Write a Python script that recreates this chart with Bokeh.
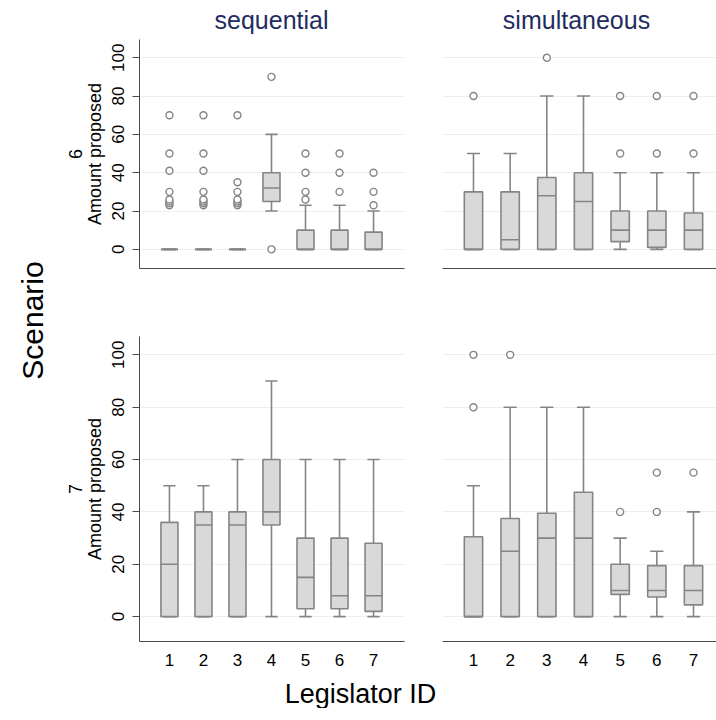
import numpy as np
from math import pi
from bokeh.plotting import figure
from bokeh.layouts import row, column
from bokeh.models import Range1d, FixedTicker, Label, ColumnDataSource
from bokeh.embed import file_html
from bokeh.resources import INLINE

# ---------------- data ----------------
legislators = [1, 2, 3, 4, 5, 6, 7]
y_ticks = [0, 20, 40, 60, 80, 100]
col_titles = ["sequential", "simultaneous"]
scenarios = ["6", "7"]
x_title = "Legislator ID"
y_title = "Scenario"
y_axis_name = "Amount proposed"

# Scenario 6, sequential
s6_seq_lo = [0, 0, 0, 20, 0, 0, 0]
s6_seq_q1 = [0, 0, 0, 25, 0, 0, 0]
s6_seq_med = [0, 0, 0, 32, 0, 0, 0]
s6_seq_q3 = [0, 0, 0, 40, 10, 10, 9]
s6_seq_hi = [0, 0, 0, 60, 23, 23, 20]
s6_seq_out = [[23, 24, 25, 26, 30, 41, 50, 70], [23, 24, 25, 26, 30, 41, 50, 70],
              [23, 24, 25, 26, 30, 35, 70], [0, 90], [26, 30, 40, 50], [30, 40, 50], [23, 30, 40]]

# Scenario 6, simultaneous
s6_sim_lo = [0, 0, 0, 0, 0, 0, 0]
s6_sim_q1 = [0, 0, 0, 0, 4, 1, 0]
s6_sim_med = [0, 5, 28, 25, 10, 10, 10]
s6_sim_q3 = [30, 30, 37.5, 40, 20, 20, 19]
s6_sim_hi = [50, 50, 80, 80, 40, 40, 40]
s6_sim_out = [[80], [], [100], [], [50, 80], [50, 80], [50, 80]]

# Scenario 7, sequential
s7_seq_lo = [0, 0, 0, 0, 0, 0, 0]
s7_seq_q1 = [0, 0, 0, 35, 3, 3, 2]
s7_seq_med = [20, 35, 35, 40, 15, 8, 8]
s7_seq_q3 = [36, 40, 40, 60, 30, 30, 28]
s7_seq_hi = [50, 50, 60, 90, 60, 60, 60]
s7_seq_out = [[], [], [], [], [], [], []]

# Scenario 7, simultaneous
s7_sim_lo = [0, 0, 0, 0, 0, 0, 0]
s7_sim_q1 = [0, 0, 0, 0, 8.5, 7.5, 4.5]
s7_sim_med = [0, 25, 30, 30, 10, 10, 10]
s7_sim_q3 = [30.5, 37.5, 39.5, 47.5, 20, 19.5, 19.5]
s7_sim_hi = [50, 80, 80, 80, 30, 25, 40]
s7_sim_out = [[80, 100], [100], [], [], [40], [40, 55], [55]]

panels = {
    ("6", "sequential"): (s6_seq_lo, s6_seq_q1, s6_seq_med, s6_seq_q3, s6_seq_hi, s6_seq_out),
    ("6", "simultaneous"): (s6_sim_lo, s6_sim_q1, s6_sim_med, s6_sim_q3, s6_sim_hi, s6_sim_out),
    ("7", "sequential"): (s7_seq_lo, s7_seq_q1, s7_seq_med, s7_seq_q3, s7_seq_hi, s7_seq_out),
    ("7", "simultaneous"): (s7_sim_lo, s7_sim_q1, s7_sim_med, s7_sim_q3, s7_sim_hi, s7_sim_out),
}

# ---------------- style ----------------
FONT = "Liberation Sans"
BOX_FILL = "#d9d9d9"
BOX_LINE = "#858585"
GRID = "#eaf0f2"
AXIS = "#4a4a4a"
TITLE_COLOR = "#1f2d5e"
BOX_W = 0.5
CAP_W = 0.36

SCEN_W = 60
LEFT_W, RIGHT_W = 360, 296
TITLE_H, TOP_H, BOT_H, XLAB_H = 39, 261, 372, 36
MAIN_W = LEFT_W + RIGHT_W

y_ranges = {"6": (-10, 109.5), "7": (-9.5, 107)}
x_ranges = {"sequential": (0.12, 7.91), "simultaneous": (0.155, 7.627)}


def blank_fig(w, h):
    f = figure(width=w, height=h, x_range=Range1d(0, 1), y_range=Range1d(0, 1),
               x_axis_type=None, y_axis_type=None, toolbar_location=None,
               output_backend="svg", min_border=0)
    f.outline_line_color = None
    f.grid.visible = False
    return f


def panel(scen, cond):
    lo, q1, med, q3, hi, out = panels[(scen, cond)]
    is_left = cond == "sequential"
    is_bottom = scen == "7"
    w = LEFT_W if is_left else RIGHT_W
    h = BOT_H if is_bottom else TOP_H
    p = figure(width=w, height=h, x_range=Range1d(*x_ranges[cond]),
               y_range=Range1d(*y_ranges[scen]), toolbar_location=None,
               output_backend="svg")
    p.min_border_left = 79 if is_left else 22
    p.min_border_right = 16 if is_left else 0
    p.min_border_top = 36 if is_bottom else 0
    p.min_border_bottom = 31 if is_bottom else 32
    p.outline_line_color = None
    p.background_fill_color = "white"
    p.xgrid.visible = False
    p.ygrid.ticker = FixedTicker(ticks=y_ticks)
    p.ygrid.grid_line_color = GRID
    p.ygrid.grid_line_width = 1

    # x axis
    xa = p.xaxis[0]
    xa.ticker = FixedTicker(ticks=legislators)
    xa.axis_line_color = AXIS
    xa.major_tick_line_color = None
    xa.minor_tick_line_color = None
    xa.major_tick_in = 0
    xa.major_tick_out = 0
    xa.major_label_standoff = 12
    xa.major_label_text_font = FONT
    xa.major_label_text_font_size = "17px"
    xa.major_label_text_color = "black"
    if not is_bottom:
        xa.major_label_text_font_size = "0px"
        xa.major_label_text_color = None

    # y axis
    ya = p.yaxis[0]
    if is_left:
        ya.ticker = FixedTicker(ticks=y_ticks)
        ya.axis_line_color = AXIS
        ya.major_tick_line_color = AXIS
        ya.minor_tick_line_color = None
        ya.major_tick_in = 0
        ya.major_tick_out = 7
        ya.major_label_orientation = "vertical"
        ya.major_label_standoff = 8
        ya.major_label_text_font = FONT
        ya.major_label_text_font_size = "17px"
        ya.major_label_text_color = "black"
        ya.axis_label = scen + "\n" + y_axis_name
        ya.axis_label_text_font = FONT
        ya.axis_label_text_font_size = "18px"
        ya.axis_label_text_font_style = "normal"
        ya.axis_label_text_line_height = 0.92
        ya.axis_label_text_color = "black"
        ya.axis_label_standoff = 5
    else:
        ya.visible = False

    x = np.array(legislators, dtype=float)
    src = ColumnDataSource(dict(
        x=x, lo=lo, q1=q1, med=med, q3=q3, hi=hi,
        cx0=x - CAP_W / 2, cx1=x + CAP_W / 2,
        mx0=x - BOX_W / 2, mx1=x + BOX_W / 2,
    ))
    lw = 1.6
    p.segment(x0="x", y0="q3", x1="x", y1="hi", source=src, line_color=BOX_LINE, line_width=lw)
    p.segment(x0="x", y0="lo", x1="x", y1="q1", source=src, line_color=BOX_LINE, line_width=lw)
    p.segment(x0="cx0", y0="hi", x1="cx1", y1="hi", source=src, line_color=BOX_LINE, line_width=lw)
    p.segment(x0="cx0", y0="lo", x1="cx1", y1="lo", source=src, line_color=BOX_LINE, line_width=lw)
    p.vbar(x="x", width=BOX_W, bottom="q1", top="q3", source=src,
           fill_color=BOX_FILL, line_color=BOX_LINE, line_width=lw)
    p.segment(x0="mx0", y0="med", x1="mx1", y1="med", source=src, line_color=BOX_LINE, line_width=lw)

    ox, oy = [], []
    for xi, vals in zip(legislators, out):
        for v in vals:
            ox.append(xi)
            oy.append(v)
    if ox:
        p.scatter(ox, oy, marker="circle", size=7, fill_color="white",
                  line_color=BOX_LINE, line_width=1.4)
    return p


# titles row
title_fig = blank_fig(MAIN_W, TITLE_H)
title_x = [(271 - SCEN_W) / MAIN_W, (576 - SCEN_W) / MAIN_W]
for t, tx in zip(col_titles, title_x):
    title_fig.add_layout(Label(x=tx, y=1 - 19 / TITLE_H, text=t, text_align="center",
                               text_baseline="middle", text_font=FONT,
                               text_font_size="25px", text_color=TITLE_COLOR))

# x title
xlab_fig = blank_fig(MAIN_W, XLAB_H)
xlab_fig.add_layout(Label(x=(360 - SCEN_W) / MAIN_W, y=1 - 21 / XLAB_H, text=x_title,
                          text_align="center", text_baseline="middle",
                          text_font=FONT, text_font_size="27px", text_color="black"))

total_h = TITLE_H + TOP_H + BOT_H + XLAB_H
scen_fig = blank_fig(SCEN_W, total_h)
scen_fig.add_layout(Label(x=32 / SCEN_W, y=1 - 320 / total_h, text=y_title, angle=pi / 2,
                          text_align="center", text_baseline="middle",
                          text_font=FONT, text_font_size="30px", text_color="black"))

grid = column(
    title_fig,
    row(panel("6", "sequential"), panel("6", "simultaneous")),
    row(panel("7", "sequential"), panel("7", "simultaneous")),
    xlab_fig,
)
layout = row(scen_fig, grid)

open("out.html", "w").write(file_html(layout, INLINE))
